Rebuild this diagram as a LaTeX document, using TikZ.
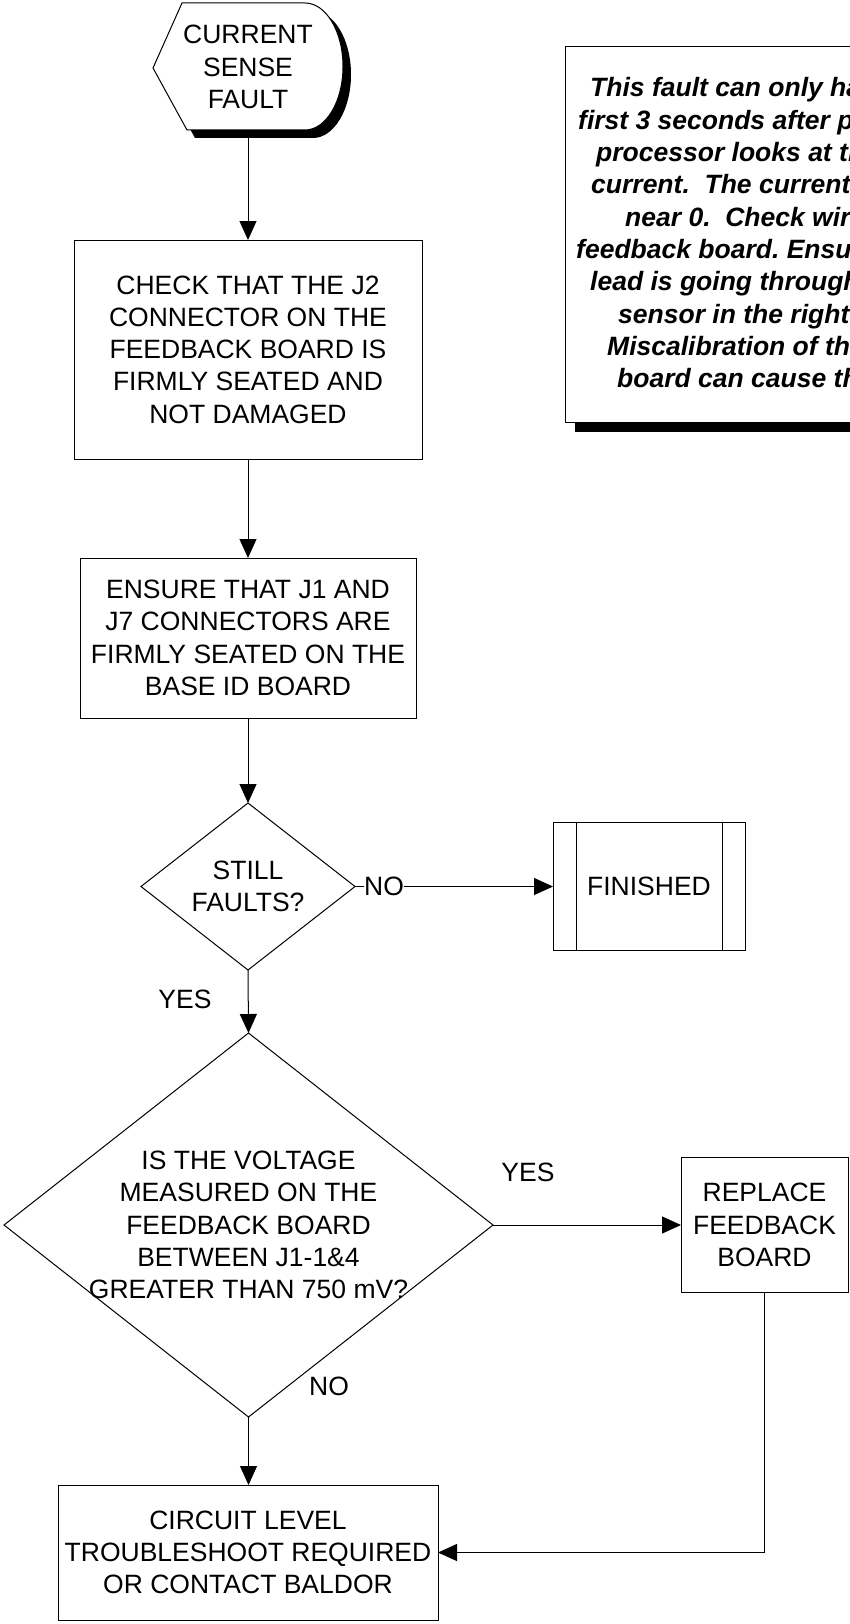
\documentclass[tikz,border=0pt]{standalone}
\usepackage{fontspec}
\setmainfont{Liberation Sans}
\usetikzlibrary{arrows.meta,shapes.geometric}
\frenchspacing
\begin{document}
\begin{tikzpicture}[x=1pt,y=-1pt,
  txt/.style={font=\fontsize{26.5}{32.3}\selectfont, align=center},
  box/.style={draw, line width=1pt, rectangle, inner sep=0pt, outer sep=0pt, txt},
  dia/.style={draw, line width=1pt, diamond, inner sep=0pt, outer sep=0pt},
  conn/.style={line width=1pt, -{Triangle[length=19pt,width=17pt]}},
  plain/.style={line width=1pt},
  lbl/.style={txt, inner sep=0pt},
  note/.style={font=\fontsize{26.5}{32.3}\selectfont\bfseries\itshape, inner sep=0pt, anchor=base west}
]
\useasboundingbox (0,0) rectangle (850,1624);
\fill[white] (0,0) rectangle (850,1624);
\begin{scope}
\clip (0,0) rectangle (850,1624);
% note box with shadow
\fill[black] (575,57) rectangle (1025,432);
\draw[fill=white, line width=1pt] (565,47) rectangle (1015,422);
\node[note] (n1) at (590,97) {This fault can only happen in the};
\node[note] (n2) at (578,129.3) {first 3 seconds after power up, the};
\node[note] (n3) at (596,161.6) {processor looks at the motor};
\node[note] (n4) at (591,193.9) {current.~ The current should be};
\node[note] (n5) at (625,226.2) {near 0.~ Check wiring to the};
\node[note] (n6) at (576,258.5) {feedback board. Ensure the motor};
\node[note] (n7) at (590,290.8) {lead is going through the current};
\node[note] (n8) at (618,323.1) {sensor in the right direction.};
\node[note] (n9) at (607,355.4) {Miscalibration of the feedback};
\node[note] (n10) at (617,387.7) {board can cause this fault.};

% start terminator with shadow
\fill[black, shift={(8,8)}] (153,68) -- (182,3) -- (305,3) arc[start angle=-90, end angle=90, x radius=38, y radius=63.5] -- (187,130) -- cycle;
\draw[fill=white, line width=1pt] (153,68) -- (182,3) -- (305,3) arc[start angle=-90, end angle=90, x radius=38, y radius=63.5] -- (187,130) -- cycle;
\node[lbl] (start) at (248,67) {CURRENT\\SENSE\\FAULT};
\coordinate (startbot) at (248,138);

% boxes
\node[box, minimum width=348pt, minimum height=219pt] (check) at (248,349.5)
  {CHECK THAT THE J2\\CONNECTOR ON THE\\FEEDBACK BOARD IS\\FIRMLY SEATED AND\\NOT DAMAGED};
\node[box, minimum width=336pt, minimum height=160pt] (ensure) at (248,638)
  {ENSURE THAT J1 AND\\J7 CONNECTORS ARE\\FIRMLY SEATED ON THE\\BASE ID BOARD};
\node[dia, minimum width=214pt, minimum height=167pt] (still) at (248,886.5) {};
\node[lbl] (stillt) at (still) {STILL\\FAULTS?};
\node[box, minimum width=192pt, minimum height=128pt] (fin) at (649,886.5) {FINISHED};
\draw[plain] ([xshift=23pt]fin.north west) -- ([xshift=23pt]fin.south west);
\draw[plain] ([xshift=-23pt]fin.north east) -- ([xshift=-23pt]fin.south east);
\node[dia, minimum width=489pt, minimum height=384pt] (big) at (248.5,1225) {};
\node[lbl] (bigt) at (big) {IS THE VOLTAGE\\MEASURED ON THE\\FEEDBACK BOARD\\BETWEEN J1-1\&4\\GREATER THAN 750 mV?};
\node[box, minimum width=167pt, minimum height=135pt] (rep) at (764.5,1225)
  {REPLACE\\FEEDBACK\\BOARD};
\node[box, minimum width=380pt, minimum height=135pt] (bot) at (248,1552.5)
  {CIRCUIT LEVEL\\TROUBLESHOOT REQUIRED\\OR CONTACT BALDOR};

% connectors
\draw[conn] (startbot) -- (check.north);
\draw[conn] (check.south) -- (ensure.north);
\draw[conn] (ensure.south) -- (still.north);
\draw[conn] (still.east) -- (still.east -| fin.west);
\node[lbl, fill=white] (no1) at (384,886.5) {NO};
\draw[conn] (still.south) -- (big.north);
\node[lbl] (yes1) at (185,999) {YES};
\draw[conn] (big.east) -- (big.east -| rep.west);
\node[lbl] (yes2) at (528,1172) {YES};
\draw[conn] (big.south) -- (big.south |- bot.north);
\node[lbl] (no2) at (329,1386) {NO};
\draw[conn] (rep.south) |- (bot.east);
\end{scope}
\end{tikzpicture}
\end{document}
